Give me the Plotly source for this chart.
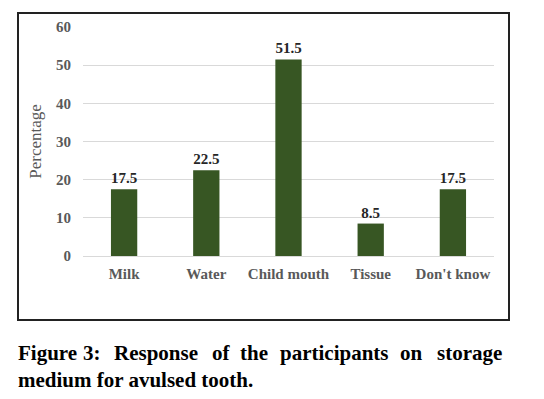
import plotly.graph_objects as go

categories = ["Milk", "Water", "Child mouth", "Tissue", "Don't know"]
values = [17.5, 22.5, 51.5, 8.5, 17.5]
y_ticks = [0, 10, 20, 30, 40, 50, 60]
caption_line1 = ["Figure", "3:", "Response", "of", "the", "participants", "on", "storage"]
caption_line2 = "medium for avulsed tooth."

# page body has an 8px margin, so draw in a figure 8px smaller and shift coords
OFF = 8
W, H = 544 - OFF, 399 - OFF
L, R, T, B = 83 - OFF, 50, 27 - OFF, 143
pw, ph = W - L - R, H - T - B

def px(x):
    return (x - OFF - L) / pw

def py(y):
    return (H - B - (y - OFF)) / ph

fig = go.Figure()
fig.add_trace(go.Bar(
    x=categories, y=values, width=0.32,
    marker=dict(color="#375623", line=dict(width=0)),
    text=[f"{v:.1f}" for v in values], textposition="outside",
    textfont=dict(family="Liberation Serif", size=15, color="#262626"),
    texttemplate="<b>%{text}</b>", cliponaxis=False,
))

fig.update_layout(
    width=W, height=H, margin=dict(l=L, r=R, t=T, b=B, autoexpand=False),
    paper_bgcolor="white", plot_bgcolor="white", showlegend=False,
    xaxis=dict(automargin=False,
               tickfont=dict(family="Liberation Serif", size=15, color="#595959"),
               showgrid=False, showline=False, ticks="outside", ticklen=4, tickcolor="white",
               tickvals=categories, ticktext=[f"<b>{c}</b>" for c in categories]),
    yaxis=dict(automargin=False, range=[0, 60], tickvals=y_ticks,
               ticktext=[f"<b>{t}</b>" for t in y_ticks],
               tickfont=dict(family="Liberation Serif", size=15, color="#595959"),
               showgrid=True, gridcolor="#d9d9d9", gridwidth=1,
               zeroline=True, zerolinecolor="#d9d9d9", zerolinewidth=1,
               ticks="outside", ticklen=8, tickcolor="white",
               title=dict(text="Percentage", standoff=10,
                          font=dict(family="Liberation Serif", size=17, color="#595959"))),
)

# outer frame
fig.add_shape(type="rect", xref="paper", yref="paper",
              x0=px(18), x1=px(509), y0=py(320), y1=py(13),
              line=dict(color="#222222", width=2), fillcolor="rgba(0,0,0,0)")

# caption line 1 (justified)
word_x = [16, 81, 112, 210, 238, 278, 398, 435]
for w, x in zip(caption_line1, word_x):
    fig.add_annotation(text=f"<b>{w}</b>", xref="paper", yref="paper",
                       x=px(x), y=py(353), xanchor="left", yanchor="middle",
                       showarrow=False,
                       font=dict(family="Liberation Serif", size=21, color="#000000"))
fig.add_annotation(text=f"<b>{caption_line2}</b>", xref="paper", yref="paper",
                   x=px(16), y=py(380), xanchor="left", yanchor="middle",
                   showarrow=False,
                   font=dict(family="Liberation Serif", size=21, color="#000000"))

fig.write_html("out.html")
